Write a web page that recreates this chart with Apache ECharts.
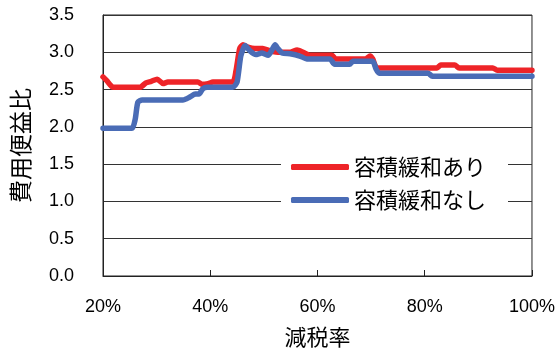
<!DOCTYPE html>
<html>
<head>
<meta charset="utf-8">
<script src="https://cdn.jsdelivr.net/npm/echarts@6/dist/echarts.min.js"></script>
<style>
  html, body { margin: 0; padding: 0; background: #fff; }
  #chart { width: 558px; height: 363px; }
</style>
</head>
<body>
<div id="chart"></div>
<script>
// 減税率 (%) and 費用便益比
const withRelief = [
  [20.0, 2.67], [20.7, 2.62], [21.9, 2.53], [26.9, 2.53], [28.0, 2.59], [29.0, 2.61],
  [30.1, 2.64], [31.2, 2.58], [32.1, 2.60], [37.7, 2.60], [38.5, 2.57], [39.6, 2.58],
  [40.5, 2.60], [44.2, 2.60], [44.8, 2.75], [45.5, 3.05], [46.1, 3.10], [47.0, 3.07],
  [48.3, 3.05], [49.8, 3.05], [51.1, 3.02], [53.0, 3.00], [54.9, 3.00], [56.2, 3.03],
  [57.3, 3.00], [58.6, 2.96], [62.7, 2.96], [63.4, 2.91], [69.0, 2.91], [69.8, 2.95],
  [70.3, 2.91], [71.1, 2.79], [82.3, 2.79], [83.0, 2.83], [85.6, 2.83], [86.4, 2.79],
  [92.7, 2.79], [93.5, 2.76], [100, 2.76]
];
const withoutRelief = [
  [20.0, 1.98], [25.4, 1.98], [26.0, 2.10], [26.5, 2.33], [27.3, 2.36], [34.9, 2.36],
  [36.2, 2.40], [37.2, 2.44], [37.9, 2.44], [38.6, 2.51], [39.4, 2.53], [44.2, 2.53],
  [45.0, 2.60], [45.7, 2.95], [46.5, 3.09], [47.4, 3.02], [48.5, 2.97], [49.6, 2.99],
  [50.8, 2.96], [51.5, 3.03], [52.1, 3.10], [52.6, 3.05], [53.4, 2.99], [54.9, 2.98],
  [56.7, 2.95], [58.0, 2.91], [62.3, 2.91], [63.2, 2.84], [66.0, 2.84], [66.6, 2.88],
  [70.3, 2.88], [70.9, 2.78], [71.5, 2.72], [80.6, 2.72], [81.4, 2.68], [100, 2.68]
];
const seriesNames = ['容積緩和あり', '容積緩和なし'];

const font = "'Liberation Sans', 'Noto Sans CJK JP', sans-serif";
const jpFont = "'Noto Sans CJK JP', sans-serif";
const chart = echarts.init(document.getElementById('chart'), null, { renderer: 'canvas' });

chart.setOption({
  animation: false,
  textStyle: { fontFamily: font, color: '#000' },
  grid: {
    left: 103, right: 26, top: 15, bottom: 87,
    show: true, borderColor: '#222', borderWidth: 1
  },
  legend: {
    orient: 'vertical',
    left: 281, top: 150,
    icon: 'roundRect',
    itemWidth: 58, itemHeight: 6,
    itemGap: 9,
    padding: [5, 22, 5, 10],
    backgroundColor: '#fff',
    textStyle: { fontSize: 22, lineHeight: 24, color: '#000', fontFamily: jpFont },
    data: seriesNames
  },
  xAxis: {
    type: 'value',
    min: 20, max: 100, interval: 20,
    name: '減税率',
    nameLocation: 'middle',
    nameGap: 50,
    nameTextStyle: { fontSize: 22, color: '#000', fontFamily: jpFont },
    axisLine: { show: true, lineStyle: { color: '#222', width: 1 } },
    axisTick: { show: true, inside: true, length: 6, lineStyle: { color: '#222' } },
    axisLabel: { formatter: '{value}%', fontSize: 18, margin: 22, color: '#000' },
    splitLine: { show: false }
  },
  yAxis: {
    type: 'value',
    min: 0, max: 3.5, interval: 0.5,
    name: '費用便益比',
    nameLocation: 'middle',
    nameGap: 71,
    nameTextStyle: { fontSize: 23, color: '#000', fontFamily: jpFont },
    axisLine: { show: true, lineStyle: { color: '#222', width: 1 } },
    axisTick: { show: false },
    axisLabel: { formatter: v => v.toFixed(1), fontSize: 18, margin: 29, color: '#000' },
    splitLine: { show: true, lineStyle: { color: '#333', width: 1 } }
  },
  series: [
    {
      name: seriesNames[0], type: 'line', data: withRelief,
      symbol: 'none', smooth: 0.2,
      lineStyle: { color: '#ee2428', width: 5.5, cap: 'round', join: 'round' },
      itemStyle: { color: '#ee2428' }
    },
    {
      name: seriesNames[1], type: 'line', data: withoutRelief,
      symbol: 'none', smooth: 0.2,
      lineStyle: { color: '#4a6cb6', width: 5.5, cap: 'round', join: 'round' },
      itemStyle: { color: '#4a6cb6' }
    }
  ]
});
</script>
</body>
</html>
